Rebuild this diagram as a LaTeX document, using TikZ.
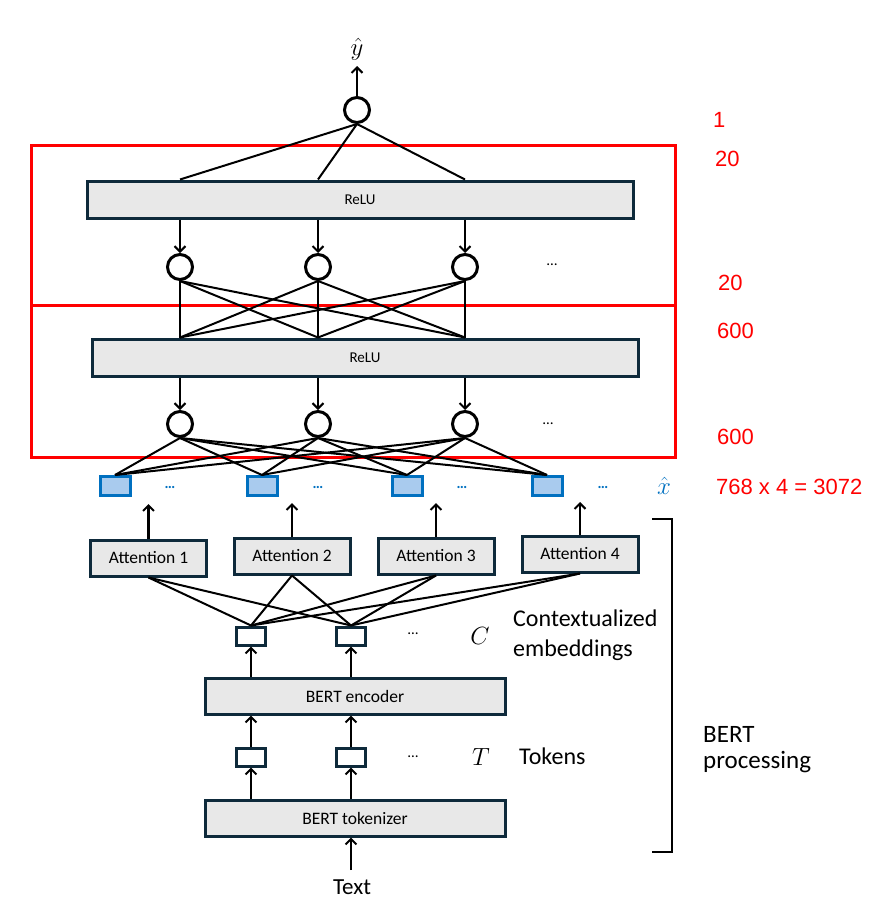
\documentclass[tikz,border=0pt]{standalone}
\usepackage{fontspec}
\setmainfont{Carlito}
\newfontfamily\arialfont{Liberation Sans}
\usetikzlibrary{arrows.meta}
\definecolor{boxedge}{HTML}{0E2A3B}
\definecolor{boxfill}{HTML}{E8E8E8}
\definecolor{xblue}{HTML}{0070C0}
\definecolor{xfill}{HTML}{A9CBEE}
\begin{document}
\begin{tikzpicture}[x=1pt,y=-1pt,
  layerbox/.style={draw=boxedge,fill=boxfill,line width=3pt,minimum width=546pt,minimum height=37pt,inner sep=0pt,font=\fontsize{15}{17}\selectfont},
  bertbox/.style={draw=boxedge,fill=boxfill,line width=3pt,minimum width=300pt,minimum height=36pt,inner sep=0pt,font=\fontsize{17.5}{20}\selectfont},
  attbox/.style={draw=boxedge,fill=boxfill,line width=3pt,minimum width=116pt,minimum height=36pt,inner sep=0pt,font=\fontsize{17.5}{20}\selectfont},
  neuron/.style={circle,draw=black,line width=3pt,minimum size=25pt,inner sep=0pt},
  smallbox/.style={draw=boxedge,fill=white,line width=3pt,minimum width=29pt,minimum height=18pt,inner sep=0pt},
  xbox/.style={draw=xblue,fill=xfill,line width=3pt,minimum width=30pt,minimum height=19pt,inner sep=0pt},
  conn/.style={line width=2pt,black},
  arr/.style={line width=2.2pt,black,-{Straight Barb[length=5.5pt,width=11pt,line width=2pt]}},
  redbox/.style={draw=red,line width=3pt},
  rednum/.style={text=red,font=\arialfont\fontsize{22}{26}\selectfont,anchor=west,inner sep=0pt},
  dots/.style={font=\fontsize{15}{16}\selectfont,inner sep=0pt},
  bluedots/.style={font=\fontsize{15}{16}\selectfont\bfseries,text=xblue,inner sep=0pt},
  label/.style={font=\fontsize{24}{30}\selectfont,anchor=west,inner sep=0pt,align=left},
  mathlabel/.style={font=\fontsize{23}{25}\selectfont,inner sep=0pt}
]
\useasboundingbox (0,0) rectangle (880,918);

% red boxes
\draw[redbox] (31,145) rectangle (675,305);
\draw[redbox] (31,305) rectangle (675,457);

% output neuron
\node[neuron] (top) at (357,110) {};
\coordinate (yend) at (357,66);
\node[mathlabel,font=\fontsize{25}{27}\selectfont] (yhat) at (357,49) {$\hat{y}$};
\draw[arr] (top.north) -- (yend);

% ReLU layers
\node[layerbox] (r1) at (360,199.5) {ReLU};
\node[layerbox] (r2) at (365,357.5) {ReLU};

% hidden neurons row 2
\node[neuron] (c2a) at (180,267) {};
\node[neuron] (c2b) at (318,267) {};
\node[neuron] (c2c) at (465,267) {};
\node[dots] (d2) at (552,265) {\ldots};

% hidden neurons row 3
\node[neuron] (c3a) at (180,424) {};
\node[neuron] (c3b) at (318,424) {};
\node[neuron] (c3c) at (465,424) {};
\node[dots] (d3) at (548,424) {\ldots};

% top neuron to ReLU1
\foreach \c in {c2a,c2b,c2c} \draw[conn] (top.south) -- (r1.north -| \c);
% ReLU1 to row 2 neurons
\foreach \c in {c2a,c2b,c2c} \draw[arr] (r1.south -| \c) -- (\c.north);
% row 2 neurons to ReLU2
\foreach \a in {c2a,c2b,c2c} \foreach \b in {c2a,c2b,c2c} \draw[conn] (\a.south) -- (r2.north -| \b);
% ReLU2 to row 3 neurons
\foreach \c in {c3a,c3b,c3c} \draw[arr] (r2.south -| \c) -- (\c.north);

% x-hat boxes
\node[xbox] (x1) at (115,486) {};
\node[xbox] (x2) at (262,486) {};
\node[xbox] (x3) at (407,486) {};
\node[xbox] (x4) at (547,486) {};
\node[bluedots] (bd1) at (170,487) {\ldots};
\node[bluedots] (bd2) at (318,487) {\ldots};
\node[bluedots] (bd3) at (462,487) {\ldots};
\node[bluedots] (bd4) at (603,487) {\ldots};
\node[mathlabel,text=xblue] (xhat) at (664,486) {$\hat{x}$};

\foreach \a in {c3a,c3b,c3c} \foreach \b in {x1,x2,x3,x4} \draw[conn] (\a.south) -- (\b.north);

% attention boxes
\node[attbox] (a1) at (148.5,558) {Attention 1};
\node[attbox] (a2) at (292,556) {Attention 2};
\node[attbox] (a3) at (436,556) {Attention 3};
\node[attbox] (a4) at (580,554) {Attention 4};
\coordinate (e1) at (148.5,504);
\coordinate (e2) at (292,503);
\coordinate (e3) at (436,503);
\coordinate (e4) at (580,502);
\foreach \i in {1,2,3,4} \draw[arr] (a\i.north) -- (e\i);

% contextualized embeddings
\node[smallbox] (ctx1) at (251,636) {};
\node[smallbox] (ctx2) at (351,636) {};
\node[dots] (dc) at (413,634) {\ldots};
\node[mathlabel] (cl) at (480,636) {$C$};
\node[label] (ctxl) at (513,635) {Contextualized\\embeddings};
\foreach \a in {a1,a2,a3,a4} \foreach \b in {ctx1,ctx2} \draw[conn] (\a.south) -- (\b.north);

% BERT encoder
\node[bertbox] (enc) at (355,696) {BERT encoder};
\foreach \c in {ctx1,ctx2} \draw[arr] (enc.north -| \c) -- (\c.south);

% tokens
\node[smallbox] (tok1) at (251,757) {};
\node[smallbox] (tok2) at (351,757) {};
\node[dots] (dt) at (413,757) {\ldots};
\node[mathlabel] (tl) at (481,757) {$T$};
\node[label] (tokl) at (519,756) {Tokens};
\foreach \c in {tok1,tok2} \draw[arr] (\c.north) -- (enc.south -| \c);

% BERT tokenizer
\node[bertbox] (tkz) at (355,818) {BERT tokenizer};
\foreach \c in {tok1,tok2} \draw[arr] (tkz.north -| \c) -- (\c.south);

% text input
\node[font=\fontsize{23}{26}\selectfont,inner sep=0pt] (text) at (352,887) {Text};
\coordinate (tstart) at (351,870);
\draw[arr] (tstart) -- (tkz.south -| tstart);

% bracket
\draw[line width=2.8pt] (652,519) -- (672,519) -- (672,852) -- (652,852);
\node[label,font=\fontsize{25}{26}\selectfont] (bp) at (703,750) {BERT\\processing};

% red numbers
\node[rednum] (n1) at (713,120) {1};
\node[rednum] (n2) at (715,159) {20};
\node[rednum] (n3) at (718,283) {20};
\node[rednum] (n4) at (717,331) {600};
\node[rednum] (n5) at (717,437) {600};
\node[rednum] (n6) at (716,487) {768 x 4 = 3072};
\end{tikzpicture}
\end{document}
